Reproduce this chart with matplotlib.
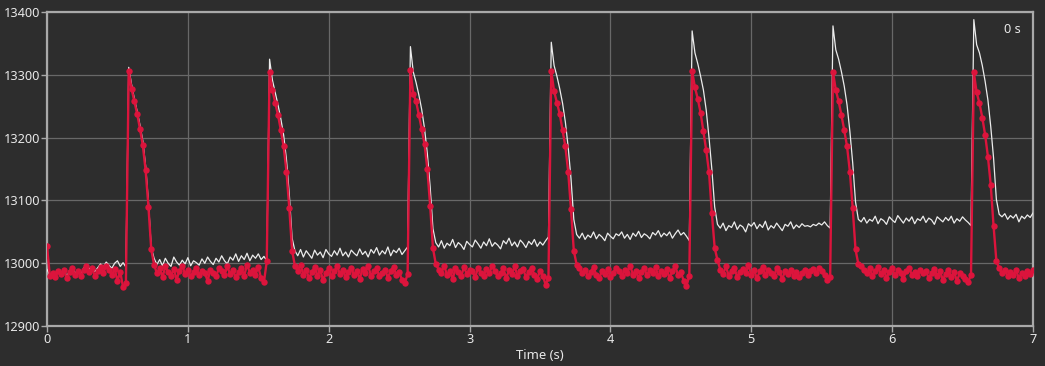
import matplotlib
matplotlib.use("Agg")
import matplotlib.pyplot as plt
import numpy as np

# sampling step of both traces (s)
DT = 0.02

# red trace, one list per stretch: before first pulse, then pulse 1..7
red_pre = [13027, 12980, 12984, 12978, 12988, 12983, 12990, 12976, 12986, 12992,
           12981, 12987, 12979, 12990, 12995, 12986, 12992, 12980, 12988, 12994,
           12985, 12996, 12989, 12982, 12991, 12972, 12986, 12962, 12968]
red_decay = [
    [13306, 13278, 13258, 13238, 13214, 13188, 13148, 13090, 13022, 12998],
    [13304, 13276, 13256, 13236, 13212, 13186, 13146, 13088, 13020, 12996],
    [13308, 13270, 13258, 13236, 13214, 13190, 13150, 13092, 13024, 12999],
    [13306, 13274, 13256, 13238, 13212, 13186, 13146, 13086, 13020, 12998],
    [13306, 13280, 13262, 13240, 13210, 13180, 13145, 13080, 13025, 13005],
    [13305, 13276, 13258, 13236, 13212, 13186, 13146, 13088, 13022, 12999],
    [13304, 13272, 13255, 13232, 13205, 13170, 13125, 13060, 13004, 12992],
]
red_base = [
    [12984, 12992, 12978, 12995, 12986, 12980, 12991, 12974, 12988, 12996,
     12983, 12990, 12979, 12986, 12993, 12981, 12988, 12985, 12972, 12990,
     12984, 12979, 12992, 12987, 12981, 12995, 12983, 12989, 12978, 12986,
     12993, 12980, 12998, 12985, 12990, 12982, 12994, 12976, 12970, 13003],
    [12988, 12998, 12982, 12990, 12976, 12986, 12994, 12980, 12989, 12973,
     12985, 12992, 12979, 12987, 12995, 12983, 12990, 12978, 12986, 12993,
     12981, 12988, 12975, 12991, 12984, 12996, 12980, 12987, 12992, 12979,
     12985, 12990, 12977, 12988, 12994, 12982, 12986, 12974, 12968, 12983],
    [12990, 12984, 12996, 12981, 12988, 12975, 12992, 12986, 12979, 12994,
     12983, 12990, 12987, 12978, 12993, 12985, 12980, 12991, 12984, 12996,
     12988, 12979, 12985, 12992, 12976, 12989, 12983, 12995, 12980, 12987,
     12991, 12978, 12986, 12993, 12982, 12975, 12988, 12980, 12966, 12976],
    [12992, 12984, 12990, 12979, 12986, 12994, 12981, 12976, 12988, 12983,
     12991, 12978, 12985, 12993, 12987, 12980, 12989, 12984, 12996, 12982,
     12988, 12977, 12986, 12992, 12981, 12990, 12985, 12994, 12979, 12987,
     12983, 12991, 12976, 12988, 12995, 12982, 12986, 12972, 12964, 12980],
    [12990, 12983, 12995, 12980, 12988, 12993, 12978, 12986, 12991, 12984,
     12997, 12982, 12989, 12976, 12987, 12994, 12981, 12990, 12985, 12979,
     12992, 12986, 12975, 12988, 12983, 12990, 12980, 12986, 12978, 12984,
     12989, 12982, 12987, 12991, 12984, 12993, 12988, 12981, 12974, 12978],
    [12996, 12990, 12985, 12992, 12980, 12988, 12994, 12983, 12990, 12977,
     12986, 12992, 12981, 12989, 12984, 12975, 12988, 12993, 12982, 12986,
     12979, 12990, 12984, 12988, 12976, 12985, 12991, 12980, 12987, 12974,
     12983, 12989, 12978, 12986, 12972, 12984, 12980, 12975, 12970, 12982],
    [12984, 12990, 12979, 12986, 12982, 12989, 12976, 12985, 12980, 12988,
     12983, 12990],
]

# white trace, same layout
white_pre = [12990, 12981, 12986, 12980, 12989, 12984, 12991, 12979, 12988, 12993,
             12984, 12990, 12982, 12992, 12998, 12991, 12995, 12987, 12993, 12999,
             12994, 13002, 12997, 12992, 13000, 13004, 12995, 13001, 12994]
white_decay = [
    [13312, 13285, 13262, 13242, 13220, 13195, 13155, 13098, 13025, 13008],
    [13325, 13292, 13272, 13252, 13230, 13204, 13165, 13110, 13040, 13020],
    [13345, 13305, 13288, 13268, 13245, 13215, 13175, 13122, 13055, 13033],
    [13352, 13315, 13298, 13278, 13255, 13225, 13185, 13135, 13070, 13046],
    [13370, 13335, 13318, 13298, 13276, 13244, 13200, 13150, 13090, 13062],
    [13378, 13340, 13325, 13305, 13282, 13252, 13210, 13160, 13098, 13070],
    [13388, 13348, 13335, 13315, 13290, 13260, 13218, 13168, 13102, 13078],
]
white_base = [
    [12998, 13006, 12996, 13008, 13000, 12995, 13010, 13002, 12997, 13005,
     12999, 13009, 12996, 13004, 13001, 12997, 13007, 13000, 13010, 13003,
     12998, 13008, 13002, 13012, 13004, 12999, 13010, 13005, 13015, 13003,
     13012, 13006, 13016, 13004, 13013, 13008, 13015, 13006, 13011, 13004],
    [13012, 13022, 13010, 13020, 13014, 13008, 13021, 13013, 13018, 13009,
     13022, 13015, 13011, 13020, 13013, 13024, 13012, 13018, 13010, 13021,
     13016, 13012, 13023, 13014, 13019, 13010, 13022, 13016, 13025, 13013,
     13020, 13015, 13026, 13012, 13021, 13017, 13024, 13014, 13020, 13026],
    [13026, 13036, 13024, 13032, 13028, 13038, 13025, 13033, 13029, 13022,
     13035, 13030, 13026, 13037, 13031, 13024, 13034, 13028, 13039, 13027,
     13033, 13029, 13023, 13036, 13031, 13040, 13028, 13034, 13026, 13037,
     13032, 13025, 13035, 13030, 13038, 13027, 13034, 13029, 13036, 13042],
    [13040, 13048, 13038, 13045, 13041, 13050, 13039, 13046, 13042, 13036,
     13048, 13043, 13039, 13047, 13044, 13050, 13040, 13046, 13038, 13048,
     13043, 13051, 13041, 13047, 13044, 13039, 13049, 13045, 13052, 13042,
     13048, 13044, 13050, 13040, 13047, 13053, 13045, 13049, 13043, 13036],
    [13056, 13064, 13052, 13060, 13057, 13066, 13054, 13061, 13058, 13050,
     13063, 13059, 13065, 13055, 13062, 13057, 13067, 13053, 13060, 13056,
     13064, 13058, 13052, 13062, 13059, 13066, 13055, 13061, 13057, 13063,
     13059, 13060, 13058, 13062, 13060, 13064, 13061, 13066, 13060, 13056],
    [13066, 13073, 13064, 13070, 13067, 13075, 13063, 13071, 13068, 13062,
     13074, 13069, 13065, 13076, 13070, 13064, 13072, 13067, 13074, 13063,
     13071, 13068, 13075, 13065, 13072, 13069, 13062, 13074, 13070, 13066,
     13073, 13068, 13075, 13064, 13071, 13067, 13074, 13069, 13065, 13060],
    [13074, 13079, 13070, 13076, 13072, 13078, 13066, 13075, 13071, 13077,
     13073, 13080],
]

x_ticks = [0, 1, 2, 3, 4, 5, 6, 7]
y_ticks = [12900, 13000, 13100, 13200, 13300, 13400]


def join(pre, decay, base):
    vals = list(pre)
    for d, b in zip(decay, base):
        vals += d + b
    return np.array(vals, dtype=float)


red = join(red_pre, red_decay, red_base)
white = join(white_pre, white_decay, white_base)
t_red = np.arange(len(red)) * DT
t_white = np.arange(len(white)) * DT

BG = "#2d2d2d"
TXT = "#e8e8e8"
plt.rcParams["font.family"] = ["Noto Sans", "DejaVu Sans"]

fig = plt.figure(figsize=(10.45, 3.66), dpi=100, facecolor=BG)
ax = fig.add_axes([0.045, 0.109, 0.9435, 0.858])
ax.set_facecolor(BG)

ax.plot(t_white, white, color="#ececec", lw=0.9, zorder=3)
ax.plot(t_red, red, color="#dc143c", lw=1.7, marker="o", ms=4.6,
        markeredgewidth=0, zorder=4)

ax.set_xlim(0, 7)
ax.set_ylim(12900, 13400)
ax.set_xticks(x_ticks)
ax.set_yticks(y_ticks)
ax.grid(True, color="#686868", lw=0.9)
ax.set_axisbelow(True)
for s in ax.spines.values():
    s.set_color("#a9a9a9")
    s.set_linewidth(1.6)
ax.tick_params(colors="#a9a9a9", labelcolor=TXT, labelsize=9.2,
               length=4, width=1, pad=1)
ax.set_xlabel("Time (s)", color=TXT, fontsize=9.4, labelpad=2)
ax.text(0.988, 0.965, "0 s", transform=ax.transAxes, ha="right", va="top",
        color=TXT, fontsize=9.2)

fig.savefig("out.png", dpi=100, facecolor=BG)
